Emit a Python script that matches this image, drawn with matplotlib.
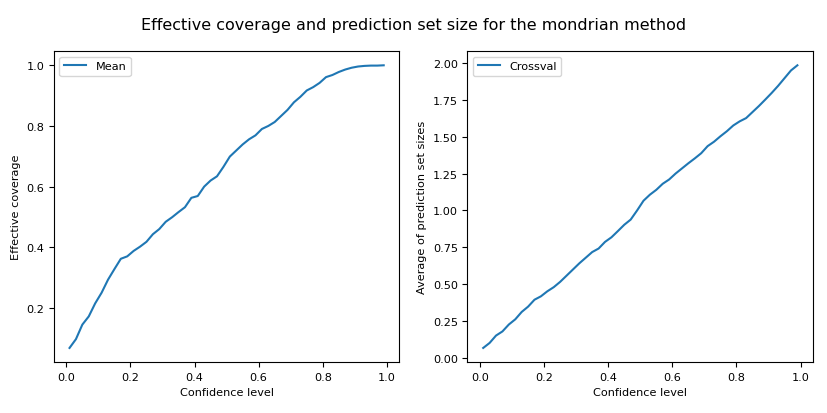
import numpy as np
import matplotlib
matplotlib.use("Agg")
import matplotlib.pyplot as plt

# confidence levels (every 0.02)
confidence = [0.01, 0.03, 0.05, 0.07, 0.09, 0.11, 0.13, 0.15, 0.17, 0.19,
              0.21, 0.23, 0.25, 0.27, 0.29, 0.31, 0.33, 0.35, 0.37, 0.39,
              0.41, 0.43, 0.45, 0.47, 0.49, 0.51, 0.53, 0.55, 0.57, 0.59,
              0.61, 0.63, 0.65, 0.67, 0.69, 0.71, 0.73, 0.75, 0.77, 0.79,
              0.81, 0.83, 0.85, 0.87, 0.89, 0.91, 0.93, 0.95, 0.97, 0.99]

# effective coverage (Mean)
coverage_mean = [0.068, 0.097, 0.145, 0.172, 0.215, 0.250, 0.293, 0.328, 0.362, 0.370,
                 0.388, 0.402, 0.418, 0.443, 0.460, 0.484, 0.499, 0.516, 0.532, 0.563,
                 0.569, 0.600, 0.620, 0.634, 0.665, 0.699, 0.719, 0.739, 0.756, 0.769,
                 0.790, 0.800, 0.813, 0.833, 0.853, 0.878, 0.896, 0.917, 0.928, 0.942,
                 0.961, 0.968, 0.978, 0.986, 0.992, 0.996, 0.998, 0.999, 0.999, 1.000]

# average prediction set size (Crossval)
set_size_crossval = [0.068, 0.102, 0.152, 0.180, 0.227, 0.262, 0.312, 0.348, 0.395, 0.418,
                     0.452, 0.480, 0.516, 0.558, 0.600, 0.642, 0.680, 0.718, 0.742, 0.787,
                     0.818, 0.860, 0.903, 0.938, 1.000, 1.066, 1.107, 1.140, 1.181, 1.210,
                     1.250, 1.285, 1.320, 1.353, 1.388, 1.436, 1.466, 1.503, 1.537, 1.576,
                     1.604, 1.626, 1.667, 1.708, 1.752, 1.797, 1.845, 1.897, 1.949, 1.984]

plt.rcParams['font.size'] = 8.1

fig, (ax1, ax2) = plt.subplots(1, 2, figsize=(8.28, 4.14), dpi=100)
fig.subplots_adjust(left=0.065, right=0.982, bottom=0.123, top=0.874, wspace=0.197)

ax1.plot(confidence, coverage_mean, label="Mean")
ax1.set_xlabel("Confidence level")
ax1.set_ylabel("Effective coverage")
ax1.legend(loc="upper left")

ax2.plot(confidence, set_size_crossval, label="Crossval")
ax2.set_xlabel("Confidence level")
ax2.set_ylabel("Average of prediction set sizes")
ax2.legend(loc="upper left")

fig.suptitle("Effective coverage and prediction set size for the mondrian method",
             fontsize=11.5, y=0.957)

fig.savefig("out.png")
